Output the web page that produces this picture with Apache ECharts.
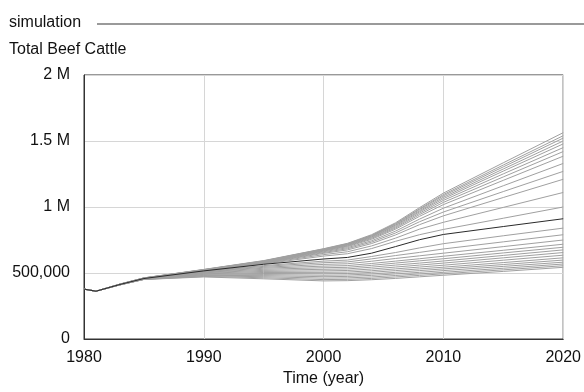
<!DOCTYPE html>
<html>
<head>
<meta charset="utf-8">
<script src="https://cdn.jsdelivr.net/npm/echarts@6/dist/echarts.min.js"></script>
<style>
html,body{margin:0;padding:0;background:#fff;}
#c{width:584px;height:392px;}
</style>
</head>
<body>
<div id="c"></div>
<script>
// Years sampled (x values)
var years = [1980,1981,1983,1985,1990,1995,2000,2002,2004,2006,2008,2010,2015,2020];
// Values in thousands of head
var xTickLabels = {1980:'1980',1990:'1990',2000:'2000',2010:'2010',2020:'2020'};
var yTickLabels = ['0','500,000','1 M','1.5 M','2 M'];

// Sensitivity runs (gray), thousands
var runA1  = [378,362,416,463,527,594,684,725,790,880,995,1105,1335,1563];
var runA2  = [378,362,416,463,526,592,682,722,785,874,986,1094,1318,1540];
var runA3  = [378,362,416,462,525,590,680,719,782,869,980,1085,1304,1522];
var runA4  = [378,362,415,462,524,588,678,716,778,863,971,1074,1288,1500];
var runA5  = [378,362,415,461,523,586,676,713,773,857,963,1063,1272,1478];
var runA6  = [378,362,415,461,522,584,673,709,768,849,953,1050,1251,1450];
var runA7  = [378,362,415,460,521,582,670,705,762,841,942,1035,1228,1420];
var runA8  = [378,362,414,460,520,580,666,700,755,832,929,1018,1202,1385];
var runA9  = [378,362,414,460,519,578,661,692,744,817,908,991,1161,1330];
var runA10 = [378,362,414,459,518,576,655,684,734,803,888,962,1117,1270];
var runA11 = [378,362,414,459,517,574,649,675,723,788,866,933,1072,1210];
var runA12 = [378,362,413,458,516,572,639,661,705,764,832,884,997,1110];
var runA13 = [378,362,413,458,515,569,628,646,685,740,790,830,915,1000];
var runB1  = [378,362,413,457,514,556,590,598,625,655,690,722,782,840];
var runB2  = [378,362,413,457,512,550,578,584,607,632,656,682,736,790];
var runB3  = [378,362,412,456,510,543,565,570,589,610,630,650,700,750];
var runB4  = [378,362,412,456,508,536,552,556,572,590,608,627,672,718];
var runB5  = [378,362,412,455,505,528,540,543,558,575,592,608,652,695];
var runB6  = [378,362,412,455,502,520,528,531,544,560,575,591,633,675];
var runB7  = [378,362,411,454,498,512,516,519,530,545,560,575,615,655];
var runB8  = [378,362,411,454,494,504,505,507,517,531,545,559,597,635];
var runB9  = [378,362,411,453,490,496,494,496,505,518,531,544,579,615];
var runB10 = [378,362,411,453,486,488,483,485,493,505,518,531,564,598];
var runB11 = [378,362,410,452,482,480,472,474,482,493,505,518,550,582];
var runB12 = [378,362,410,452,478,472,461,463,470,481,493,505,536,568];
var runB13 = [378,362,410,451,474,464,450,452,459,470,482,494,524,555];
var runB14 = [378,362,410,451,470,456,440,442,449,459,471,483,512,543];
// Base run (dark)
var baseRun = [378,362,413,458,516,566,606,618,650,700,752,792,852,911];

var grayRuns = [runA1,runA2,runA3,runA4,runA5,runA6,runA7,runA8,runA9,runA10,runA11,runA12,runA13,
  runB1,runB2,runB3,runB4,runB5,runB6,runB7,runB8,runB9,runB10,runB11,runB12,runB13,runB14];

function pairs(vals){ return years.map(function(y,i){ return [y, vals[i]]; }); }

var FONT = '"Liberation Sans", Arial, sans-serif';
var series = grayRuns.map(function(r){
  return {type:'line', data:pairs(r), symbol:'none', silent:true,
    lineStyle:{color:'#a0a0a0', width:1}, z:2};
});
series.push({type:'line', name:'simulation', data:pairs(baseRun), symbol:'none', silent:true,
  lineStyle:{color:'#2a2a2a', width:1}, z:3});

var chart = echarts.init(document.getElementById('c'), null, {renderer:'canvas'});
chart.setOption({
  animation:false,
  backgroundColor:'#fff',
  title:[
    {text:'simulation', left:9, top:15, padding:0, textStyle:{fontFamily:FONT, fontSize:16, fontWeight:'normal', color:'#111'}},
    {text:'Total Beef Cattle', left:9, top:42, padding:0, textStyle:{fontFamily:FONT, fontSize:16, fontWeight:'normal', color:'#111'}}
  ],
  graphic:[
    {type:'line', shape:{x1:97, y1:24, x2:584, y2:24}, style:{stroke:'#9a9a9a', lineWidth:2}}
  ],
  grid:{left:84, right:20, top:75, bottom:47, show:true, borderColor:'#333', borderWidth:1},
  xAxis:{type:'value', min:1980, max:2020, interval:10,
    name:'Time (year)', nameLocation:'middle', nameGap:32,
    nameTextStyle:{fontFamily:FONT, fontSize:16, color:'#111'},
    axisLine:{show:true, lineStyle:{color:'#333'}}, axisTick:{show:false},
    axisLabel:{fontFamily:FONT, fontSize:16, color:'#111', margin:11,
      formatter:function(v){ return xTickLabels[v] || ''; }},
    splitLine:{show:true, lineStyle:{color:'#d6d6d6', width:1}}
  },
  yAxis:{type:'value', min:0, max:2000, interval:500,
    axisLine:{show:true, lineStyle:{color:'#333'}}, axisTick:{show:false},
    axisLabel:{fontFamily:FONT, fontSize:16, color:'#111', margin:14,
      formatter:function(v){ return yTickLabels[Math.round(v/500)]; }},
    splitLine:{show:true, lineStyle:{color:'#d6d6d6', width:1}}
  },
  series:series
});
</script>
</body>
</html>
